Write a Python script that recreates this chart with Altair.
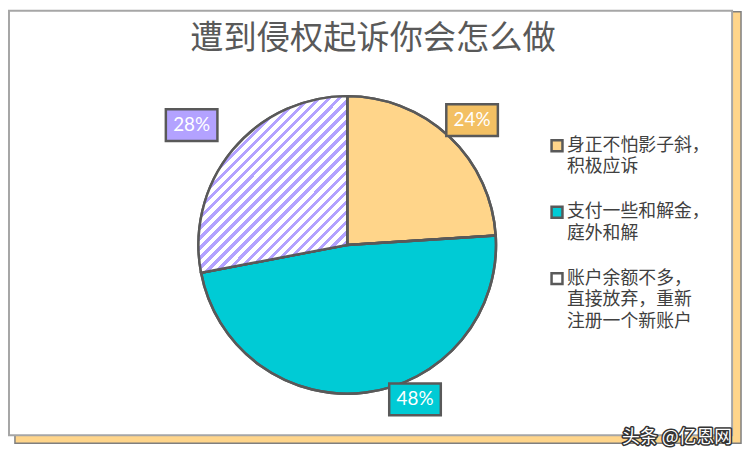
import json
import altair as alt
import pandas as pd

# ---------------- data ----------------
TITLE = "遭到侵权起诉你会怎么做"
categories = [
    "身正不怕影子斜，积极应诉",
    "支付一些和解金，庭外和解",
    "账户余额不多，直接放弃，重新注册一个新账户",
]
values = [24, 48, 28]
legend_lines = [
    ["身正不怕影子斜，", "积极应诉"],
    ["支付一些和解金，", "庭外和解"],
    ["账户余额不多，", "直接放弃，重新", "注册一个新账户"],
]
WATERMARK = "头条 @亿恩网"

# ---------------- style ----------------
CJK = "Noto Sans CJK SC"
EDGE = "#595959"
slice_colors = ["#FFD58A", "#00CBD5", "#FFFFFF"]
box_colors = ["#F3C063", "#00CBD5", "#B3A2FF"]
HATCH = "#B3A2FF"

CX, CY, R = 342, 237, 150
LABEL_RADIUS = [178, 170, 198]
LABEL_TURN = [1.8, -16.5, -2.0]
BOX_W, BOX_H = 52, 32

# hatch pattern as a hard-stop linear gradient
N = 30
stops = []
for i in range(N):
    a = round(i / N, 5)
    b = round((i + 0.45) / N, 5)
    c = round((i + 1) / N, 5)
    stops += [
        {"offset": a, "color": HATCH},
        {"offset": b, "color": HATCH},
        {"offset": b, "color": "#FFFFFF"},
        {"offset": c, "color": "#FFFFFF"},
    ]
hatch = {"gradient": "linear", "x1": 0, "y1": 0, "x2": 0.843, "y2": 1, "stops": stops}

df = pd.DataFrame({"cat": categories, "value": values, "order": list(range(len(values)))})
one = pd.DataFrame({"a": [0]})

# legend label expression (multi-line)
expr = json.dumps(legend_lines[-1], ensure_ascii=False)
for cat, lines in reversed(list(zip(categories[:-1], legend_lines[:-1]))):
    expr = f"datum.label == {json.dumps(cat, ensure_ascii=False)} ? {json.dumps(lines, ensure_ascii=False)} : ({expr})"

# ---------------- frames ----------------
frame_shadow = alt.Chart(one).mark_rect(fill="#FFD58A", stroke="#7F7F7F", strokeWidth=1.5).encode(
    x=alt.value(7), x2=alt.value(739), y=alt.value(2), y2=alt.value(437)
)
frame_box = alt.Chart(one).mark_rect(fill="#FFFFFF", stroke="#A6A6A6", strokeWidth=2).encode(
    x=alt.value(1), x2=alt.value(730), y=alt.value(1), y2=alt.value(429)
)

title = alt.Chart(pd.DataFrame({"t": [TITLE]})).mark_text(
    font=CJK, fontSize=33.5, color="#595959", align="center", baseline="middle"
).encode(x=alt.value(368), y=alt.value(29), text="t:N")

# ---------------- pie ----------------
pie_fill = alt.Chart(df).mark_arc(outerRadius=R, stroke=EDGE, strokeWidth=2.5).encode(
    theta=alt.Theta("value:Q", stack=True),
    order=alt.Order("order:Q"),
    fill=alt.Fill(
        "cat:N",
        scale=alt.Scale(domain=categories, range=slice_colors),
        legend=alt.Legend(
            title=None,
            orient="none",
            legendX=544.5,
            legendY=119,
            padding=0,
            symbolType="M-1,0.64L1,0.64L1,2.64L-1,2.64Z",
            symbolSize=121,
            symbolStrokeColor=EDGE,
            symbolStrokeWidth=2.5,
            labelFont=CJK,
            labelFontSize=18,
            labelColor="#404040",
            labelBaseline="top",
            labelOffset=1,
            labelLimit=400,
            rowPadding=18,
            labelExpr=expr,
        ),
    ),
    x=alt.value(CX),
    y=alt.value(CY),
)

pie_hatch = alt.Chart(df).mark_arc(outerRadius=R, stroke=EDGE, strokeWidth=2.5).encode(
    theta=alt.Theta("value:Q", stack=True),
    order=alt.Order("order:Q"),
    fill=alt.condition("datum.order == 2", alt.value(hatch), alt.value("transparent")),
    x=alt.value(CX),
    y=alt.value(CY),
)

# ---------------- data labels ----------------
lab = (
    alt.Chart(df)
    .transform_joinaggregate(total="sum(value)")
    .transform_window(cum="sum(value)", sort=[alt.SortField("order", order="ascending")])
    .transform_calculate(
        ang=f"(datum.cum - datum.value / 2) / datum.total * 2 * PI + {LABEL_TURN}[datum.order] * PI / 180",
        lr=f"{LABEL_RADIUS}[datum.order]",
        lx=f"{CX} + datum.lr * sin(datum.ang)",
        ly=f"{CY} - datum.lr * cos(datum.ang)",
        bx1=f"datum.lx - {BOX_W / 2}",
        bx2=f"datum.lx + {BOX_W / 2}",
        by1=f"datum.ly - {BOX_H / 2}",
        by2=f"datum.ly + {BOX_H / 2}",
        boxcol=f"{json.dumps(box_colors)}[datum.order]",
        txt="datum.value + '%'",
    )
)
boxes = lab.mark_rect(stroke=EDGE, strokeWidth=2.5).encode(
    x=alt.X("bx1:Q", scale=None, axis=None),
    x2="bx2:Q",
    y=alt.Y("by1:Q", scale=None, axis=None),
    y2="by2:Q",
    fill=alt.Fill("boxcol:N", scale=None, legend=None),
)
texts = lab.mark_text(color="#FFFFFF", fontSize=19, font="Lato", align="center", baseline="middle").encode(
    x=alt.X("lx:Q", scale=None, axis=None),
    y=alt.Y("ly:Q", scale=None, axis=None),
    text="txt:N",
)

# ---------------- watermark ----------------
wm = pd.DataFrame({"t": [WATERMARK]})
wm_back = alt.Chart(wm).mark_text(
    font=CJK, fontSize=18, align="right", baseline="middle", fill="#FFFFFF",
    stroke="#333333", strokeWidth=3, strokeJoin="round",
).encode(x=alt.value(730), y=alt.value(432), text="t:N")
wm_front = alt.Chart(wm).mark_text(
    font=CJK, fontSize=18, align="right", baseline="middle", fill="#FFFFFF",
).encode(x=alt.value(730), y=alt.value(432), text="t:N")

chart = (
    alt.layer(frame_shadow, frame_box, title, pie_fill, pie_hatch, boxes, texts, wm_back, wm_front)
    .resolve_scale(fill="independent")
    .properties(width=741, height=450, padding=0, autosize=alt.AutoSizeParams(type="none"))
    .configure(style={"guide-label": {"lineHeight": 22}})
    .configure_view(strokeWidth=0)
)

chart.save("out.html", embed_options={"renderer": "svg", "actions": False})
